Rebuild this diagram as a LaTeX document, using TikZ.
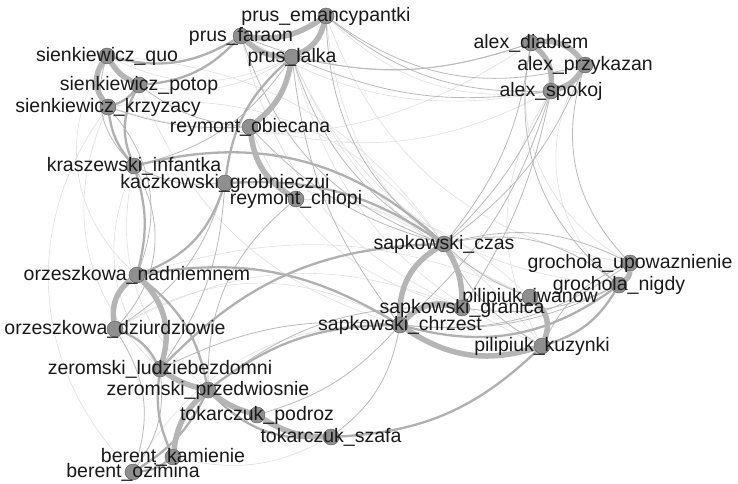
\documentclass[tikz,border=0pt]{standalone}
\usepackage{fontspec}
\setmainfont{Liberation Sans}
\usepackage{tikz}
\usetikzlibrary{backgrounds}

\tikzset{
  book/.style={circle,fill=gray!88,draw=gray!70!black,line width=0.4pt,minimum size=16pt,inner sep=0pt},
  lbl/.style={text=black!90,font=\fontsize{19.5}{20}\selectfont,inner sep=0pt,text height=14pt,text depth=4pt},
  wt/.style={draw=gray!58,line width=5.5pt},
  wm/.style={draw=gray!62,line width=2.3pt},
  ws/.style={draw=gray!55,line width=0.8pt},
  wf/.style={draw=gray!25,line width=0.6pt},
}

\begin{document}
\begin{tikzpicture}[x=1pt,y=-1pt]
  \useasboundingbox (0,0) rectangle (738,483);

  % books
  \node[book,label={[lbl]center:prus\_emancypantki}] (em) at (326,16) {};
  \node[book,label={[lbl]center:prus\_faraon}] (far) at (241,36) {};
  \node[book,label={[lbl]center:prus\_lalka}] (lal) at (292,57) {};
  \node[book,label={[lbl]center:sienkiewicz\_quo}] (quo) at (107,56) {};
  \node[book,label={[lbl]center:sienkiewicz\_potop}] (pot) at (139,85) {};
  \node[book,label={[lbl]center:sienkiewicz\_krzyzacy}] (krz) at (108,107) {};
  \node[book,label={[lbl]center:reymont\_obiecana}] (obi) at (250,127) {};
  \node[book,label={[lbl]center:kraszewski\_infantka}] (inf) at (134,166) {};
  \node[book,label={[lbl]center:kaczkowski\_grobnieczui}] (kac) at (225,183) {};
  \node[book,label={[lbl]center:reymont\_chlopi}] (chl) at (296,199) {};
  \node[book,label={[lbl]center:alex\_diablem}] (dia) at (531,43) {};
  \node[book,label={[lbl]center:alex\_przykazan}] (prz) at (585,65) {};
  \node[book,label={[lbl]center:alex\_spokoj}] (spo) at (551,91) {};
  \node[book,label={[lbl]center:sapkowski\_czas}] (czas) at (444,244) {};
  \node[book,label={[lbl]center:grochola\_upowaznienie}] (upo) at (630,263) {};
  \node[book,label={[lbl]center:grochola\_nigdy}] (nig) at (619,285) {};
  \node[book,label={[lbl]center:pilipiuk\_iwanow}] (iwa) at (530,297) {};
  \node[book,label={[lbl]center:sapkowski\_granica}] (gra) at (462,308) {};
  \node[book,label={[lbl]center:sapkowski\_chrzest}] (chr) at (400,325) {};
  \node[book,label={[lbl]center:pilipiuk\_kuzynki}] (kuz) at (542,346) {};
  \node[book,label={[lbl]center:orzeszkowa\_nadniemnem}] (nad) at (137,275) {};
  \node[book,label={[lbl]center:orzeszkowa\_dziurdziowie}] (dzi) at (115,329) {};
  \node[book,label={[lbl]center:zeromski\_ludziebezdomni}] (lud) at (160,369) {};
  \node[book,label={[lbl]center:zeromski\_przedwiosnie}] (prze) at (208,390) {};
  \node[book,label={[lbl]center:tokarczuk\_podroz}] (pod) at (257,415) {};
  \node[book,label={[lbl]center:tokarczuk\_szafa}] (sza) at (331,437) {};
  \node[book,label={[lbl]center:berent\_kamienie}] (kam) at (173,457) {};
  \node[book,label={[lbl]center:berent\_ozimina}] (ozi) at (133,472) {};

  % links, under the books
  \begin{scope}[on background layer]
    % faint long links
    \foreach \a/\b/\k in {quo/czas/25,krz/czas/30,nad/iwa/20,dzi/chr/30,krz/dia/-25,
      obi/spo/-20,em/upo/-30,lal/kuz/-25,pot/lal/-20,quo/lal/-25,inf/prze/-30,
      krz/ozi/-40,dia/upo/-35,prz/nig/-40,spo/kuz/-30,far/spo/-20,em/spo/-25,
      quo/nad/-40,chl/czas/15,obi/gra/-25,kac/kuz/25,dzi/gra/25,ozi/chr/30,
      inf/lud/-30,pot/chr/-25,lal/nig/-30,chl/iwa/20,kam/sza/-20,lal/iwa/-20,
      krz/lud/-35,em/iwa/-30,far/gra/-25}
      \draw[wf] (\a) to[bend left=\k] (\b);

    % thin links
    \foreach \a/\b/\k in {dia/far/20,dia/lal/15,spo/lal/15,spo/em/20,prz/em/25,
      dia/czas/15,spo/czas/10,prz/czas/15,spo/chr/15,spo/gra/10,prz/upo/-30,
      dia/nig/-30,lal/czas/-20,em/czas/-25,lal/chr/-15,obi/czas/-15,far/czas/-25,
      czas/upo/20,czas/nig/25,czas/kuz/-15,czas/iwa/-10,chr/upo/-20,chr/nig/-15,
      gra/nig/-15,lud/chr/15,prze/gra/20,ozi/lud/-20,dzi/ozi/25,krz/nad/30,
      quo/inf/-30,lal/inf/20,pot/obi/-15,krz/obi/-10,inf/kac/-15,kac/dzi/20,
      chl/prze/-25,sza/chr/-20,pod/chr/-15,inf/dzi/35,kac/lud/15,upo/kuz/-20}
      \draw[ws] (\a) to[bend left=\k] (\b);

    % medium links
    \foreach \a/\b/\k in {quo/far/-22,pot/far/-20,pot/krz/15,krz/inf/-15,pot/inf/-25,
      inf/nad/15,kac/nad/25,lal/kac/-20,inf/czas/28,kac/czas/18,nad/chr/20,
      lud/czas/22,dzi/lud/20,nad/prze/20,prze/chr/18,sza/kuz/-20,prze/sza/-25,
      lud/kam/-15,ozi/prze/-15,nig/kuz/20,chr/nig/-25,kam/ozi/15}
      \draw[wm] (\a) to[bend left=\k] (\b);

    % strong links
    \foreach \a/\b/\k in {far/em/-20,em/lal/25,far/lal/-20,lal/obi/20,obi/chl/-25,
      quo/krz/-35,quo/pot/-15,dia/prz/30,prz/spo/20,dia/spo/25,czas/chr/-30,
      czas/gra/15,chr/kuz/-25,iwa/kuz/35,chr/gra/30,upo/nig/25,nad/dzi/-30,
      nad/lud/30,lud/prze/-10,prze/pod/-10,pod/sza/-15,prze/kam/-20}
      \draw[wt] (\a) to[bend left=\k] (\b);
  \end{scope}
\end{tikzpicture}
\end{document}
